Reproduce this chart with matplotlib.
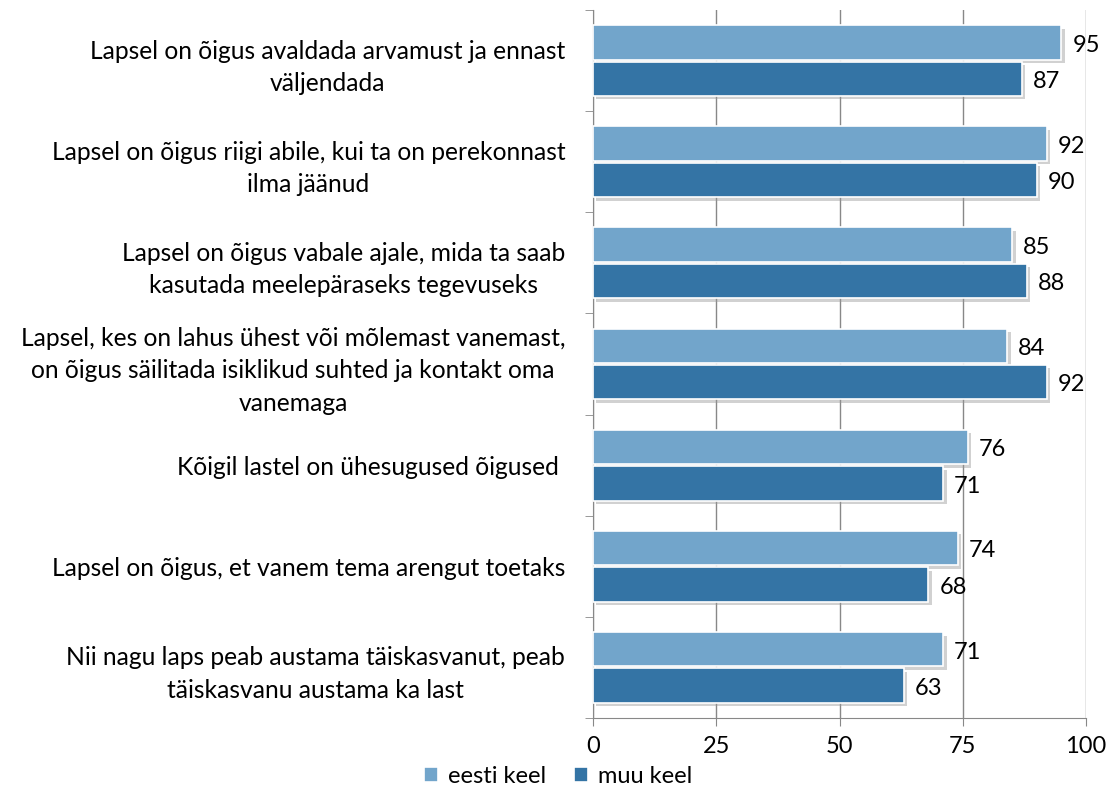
import matplotlib
matplotlib.use("Agg")
import matplotlib.pyplot as plt
import matplotlib.patheffects as pe
import numpy as np

categories = [
    "Lapsel on õigus avaldada arvamust ja ennast\nväljendada",
    "Lapsel on õigus riigi abile, kui ta on perekonnast\nilma jäänud",
    "Lapsel on õigus vabale ajale, mida ta saab\nkasutada meelepäraseks tegevuseks",
    "Lapsel, kes on lahus ühest või mõlemast vanemast,\non õigus säilitada isiklikud suhted ja kontakt oma\nvanemaga",
    "Kõigil lastel on ühesugused õigused ",
    "Lapsel on õigus, et vanem tema arengut toetaks",
    "Nii nagu laps peab austama täiskasvanut, peab\ntäiskasvanu austama ka last",
]
eesti = [95, 92, 85, 84, 76, 74, 71]
muu = [87, 90, 88, 92, 71, 68, 63]
series_names = ["eesti keel", "muu keel"]
xticks = [0, 25, 50, 75, 100]

plt.rcParams['font.family'] = ['Lato', 'DejaVu Sans']
FS = 17
FSL = 17.7

fig = plt.figure(figsize=(11.1, 7.87), dpi=100)
ax = fig.add_axes([593/1110, 1-718/787, 493/1110, 708/787])

n = len(categories)
pos = np.arange(n)
h = 0.34
light = "#72A5CB"
dark = "#3474A5"
shadow = [pe.SimplePatchShadow(offset=(2.5, -2.5), shadow_rgbFace='#999999', alpha=0.45), pe.Normal()]

b1 = ax.barh(pos - h/2 - 0.01, eesti, height=h, color=light, edgecolor='white', linewidth=1.2,
             label=series_names[0], zorder=3)
b2 = ax.barh(pos + h/2 + 0.01, muu, height=h, color=dark, edgecolor='white', linewidth=1.2,
             label=series_names[1], zorder=3)

for bars, vals in ((b1, eesti), (b2, muu)):
    for rect, v in zip(bars, vals):
        ax.annotate(str(v), (v, rect.get_y() + rect.get_height()/2), xytext=(8, -2),
                    textcoords='offset points', ha='left', va='center', fontsize=FS, zorder=5)

ax.set_xlim(0, 100)
ax.set_ylim(n - 0.5, -0.5)
ax.set_xticks(xticks)
ax.set_xticklabels([str(t) for t in xticks], fontsize=FS)
ax.tick_params(axis='x', length=6, color='#888888', pad=7, direction='out')
ax.set_yticks(pos)
ax.set_yticklabels(categories, fontsize=FSL, multialignment='center', linespacing=1.5)
ax.tick_params(axis='y', which='major', length=0, pad=20)
ax.set_yticks(np.arange(-0.5, n, 1.0), minor=True)
ax.tick_params(axis='y', which='minor', length=6, color='#888888', direction='out')
ax.grid(axis='x', color='#888888', linewidth=1, zorder=0)
ax.set_axisbelow(True)
for s in ['top', 'right']:
    ax.spines[s].set_visible(False)
for s in ['left', 'bottom']:
    ax.spines[s].set_color('#888888')

ax.legend(loc='center', bbox_to_anchor=(-0.071, -0.082),
          ncol=2, frameon=False, fontsize=FS, handlelength=0.6, handleheight=0.6,
          handletextpad=0.4, columnspacing=1.2)

for b in list(b1) + list(b2):
    b.set_path_effects(shadow)

fig.savefig("out.png", dpi=100)
